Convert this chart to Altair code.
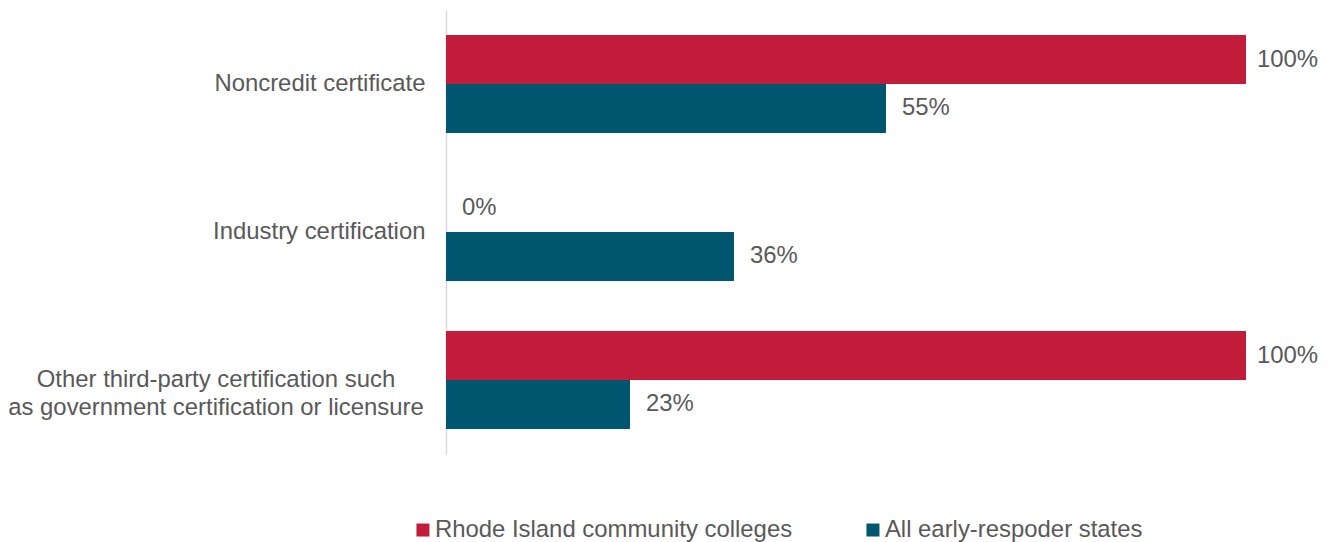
import altair as alt
import pandas as pd

categories = [
    "Noncredit certificate",
    "Industry certification",
    "Other third-party certification such|as government certification or licensure",
]
series = ["Rhode Island community colleges", "All early-respoder states"]
ri_values = [1.00, 0.00, 1.00]
all_values = [0.55, 0.36, 0.23]
colors = ["#C11C3A", "#00566F"]

rows = []
for c, a, b in zip(categories, ri_values, all_values):
    rows.append({"category": c, "series": series[0], "value": a})
    rows.append({"category": c, "series": series[1], "value": b})
df = pd.DataFrame(rows)
cat_df = pd.DataFrame({"category": categories})

FONT = "Liberation Sans, Arial, sans-serif"
TXT = "#595959"
FS = 23.9

y = alt.Y(
    "category:N",
    sort=categories,
    scale=alt.Scale(domain=categories, paddingInner=0.338, paddingOuter=0.169),
    axis=alt.Axis(
        title=None,
        ticks=False,
        domainColor="#d9d9d9",
        domainWidth=1.5,
        labelFontSize=FS,
        labelColor=TXT,
        labelFont=FONT,
        labelPadding=21,
        labelLimit=700,
        labelExpr="indexof(datum.label, '|') >= 0 ? '' : datum.label",
    ),
)
x = alt.X("value:Q", scale=alt.Scale(domain=[0, 1], nice=False), axis=None)
yoff = alt.YOffset("series:N", sort=series, scale=alt.Scale(paddingInner=0, paddingOuter=0))

bars = alt.Chart(df).mark_bar().encode(
    x=x,
    y=y,
    yOffset=yoff,
    color=alt.Color(
        "series:N",
        sort=series,
        scale=alt.Scale(domain=series, range=colors),
        legend=alt.Legend(
            title=None,
            orient="none",
            direction="horizontal",
            legendX=-35,
            legendY=508,
            symbolType="square",
            symbolSize=169,
            symbolStrokeWidth=0,
            labelFontSize=FS,
            labelFont=FONT,
            labelColor=TXT,
            labelOffset=0,
            labelLimit=600,
            columnPadding=68,
        ),
    ),
)

labels_small = alt.Chart(df).transform_filter("datum.value < 1").mark_text(
    align="left", baseline="middle", dx=16, fontSize=FS, font=FONT, color=TXT
).encode(
    x=x,
    y=y,
    yOffset=yoff,
    text=alt.Text("value:Q", format=".0%"),
)

labels_full = alt.Chart(df).transform_filter("datum.value >= 1").mark_text(
    align="left", baseline="middle", dx=11, fontSize=FS, font=FONT, color=TXT
).encode(
    x=x,
    y=y,
    yOffset=yoff,
    text=alt.Text("value:Q", format=".0%"),
)

# multi-line category label, lines centred on each other
multi_label = (
    alt.Chart(cat_df)
    .transform_filter("indexof(datum.category, '|') >= 0")
    .transform_calculate(lines="split(datum.category, '|')")
    .mark_text(align="center", baseline="middle", fontSize=FS, font=FONT, color=TXT, lineHeight=28)
    .encode(
        x=alt.value(-230),
        y=alt.Y("category:N", sort=categories, scale=alt.Scale(domain=categories)),
        text="lines:N",
    )
)

chart = (
    alt.layer(bars, labels_small, labels_full, multi_label)
    .properties(
        width=800,
        height=444,
        background="white",
        padding={"left": 0, "top": 2, "right": 5, "bottom": 0},
    )
    .configure_view(stroke=None)
)

chart.save("out.html", embed_options={"renderer": "svg", "actions": False})
